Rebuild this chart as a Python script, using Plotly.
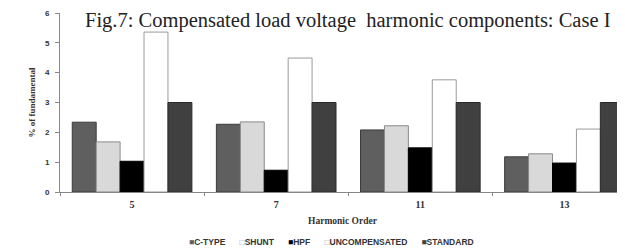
import plotly.graph_objects as go

categories = ["5", "7", "11", "13"]
series_names = ["C-TYPE", "SHUNT", "HPF", "UNCOMPENSATED", "STANDARD"]
c_type = [2.34, 2.27, 2.08, 1.18]
shunt = [1.68, 2.35, 2.22, 1.28]
hpf = [1.03, 0.73, 1.48, 0.97]
uncompensated = [5.36, 4.49, 3.76, 2.11]
standard = [3.0, 3.0, 3.0, 3.0]

values = [c_type, shunt, hpf, uncompensated, standard]
fills = ["#5f5f5f", "#d9d9d9", "#000000", "#ffffff", "#404040"]
lines = ["#3a3a3a", "#8a8a8a", "#000000", "#9a9a9a", "#2a2a2a"]
legend_glyphs = ["■", "□", "■", "□", "■"]
legend_glyph_colors = ["#5f5f5f", "#9a9a9a", "#000000", "#9a9a9a", "#404040"]

fig = go.Figure()
for name, vals, fc, lc in zip(series_names, values, fills, lines):
    fig.add_trace(go.Bar(
        x=categories, y=vals, name=name, showlegend=False,
        marker=dict(color=fc, line=dict(color=lc, width=1)),
    ))

W, H = 617, 242
fig.update_layout(
    width=W, height=H,
    margin=dict(l=52, r=0, t=5, b=58, autoexpand=False),
    paper_bgcolor="white", plot_bgcolor="white",
    barmode="group", bargap=0.17, bargroupgap=0,
    showlegend=False,
    font=dict(family="Liberation Sans", color="#333333"),
)
fig.update_xaxes(
    type="category", range=[-0.5, 3.42],
    showline=True, linecolor="#888888", linewidth=1,
    ticks="outside", tickson="boundaries", ticklen=3, tickcolor="#888888",
    ticklabelstandoff=3,
    tickfont=dict(family="Liberation Serif", size=10, color="#333333", weight="bold"),
    title=dict(text="Harmonic Order", standoff=8,
               font=dict(family="Liberation Serif", size=9.5, color="#333333", weight="bold")),
    showgrid=False,
)
fig.update_yaxes(
    range=[0, 6], dtick=1,
    showline=True, linecolor="#888888", linewidth=1,
    ticks="outside", ticklen=4, tickcolor="#888888",
    ticklabelstandoff=4,
    tickfont=dict(family="Liberation Sans", size=8, color="#333333", weight="bold"),
    title=dict(text="% of fundamental", standoff=7,
               font=dict(family="Liberation Serif", size=9, color="#333333", weight="bold")),
    showgrid=False, zeroline=False,
)
fig.add_annotation(
    text="Fig.7: Compensated load voltage  harmonic components: Case I",
    xref="paper", yref="paper", x=(348 - 8 - 52) / (W - 52), y=1,
    xanchor="center", yanchor="top",
    yshift=5, showarrow=False, borderpad=0,
    font=dict(family="Liberation Serif", size=20.5, color="#222222"),
)
legend_text = "&nbsp;&nbsp;&nbsp;&nbsp;&nbsp;&nbsp;".join(
    f"<span style='color:{gc}'>{g}</span>{n}"
    for g, gc, n in zip(legend_glyphs, legend_glyph_colors, series_names)
)
fig.add_annotation(
    text=legend_text, xref="paper", yref="paper",
    x=(331 - 8 - 52) / (W - 52), y=-(234 - 184) / 179,
    xanchor="center", yanchor="middle", showarrow=False,
    font=dict(family="Liberation Sans", size=8.5, color="#333333", weight="bold"),
)
fig.write_html("out.html")
